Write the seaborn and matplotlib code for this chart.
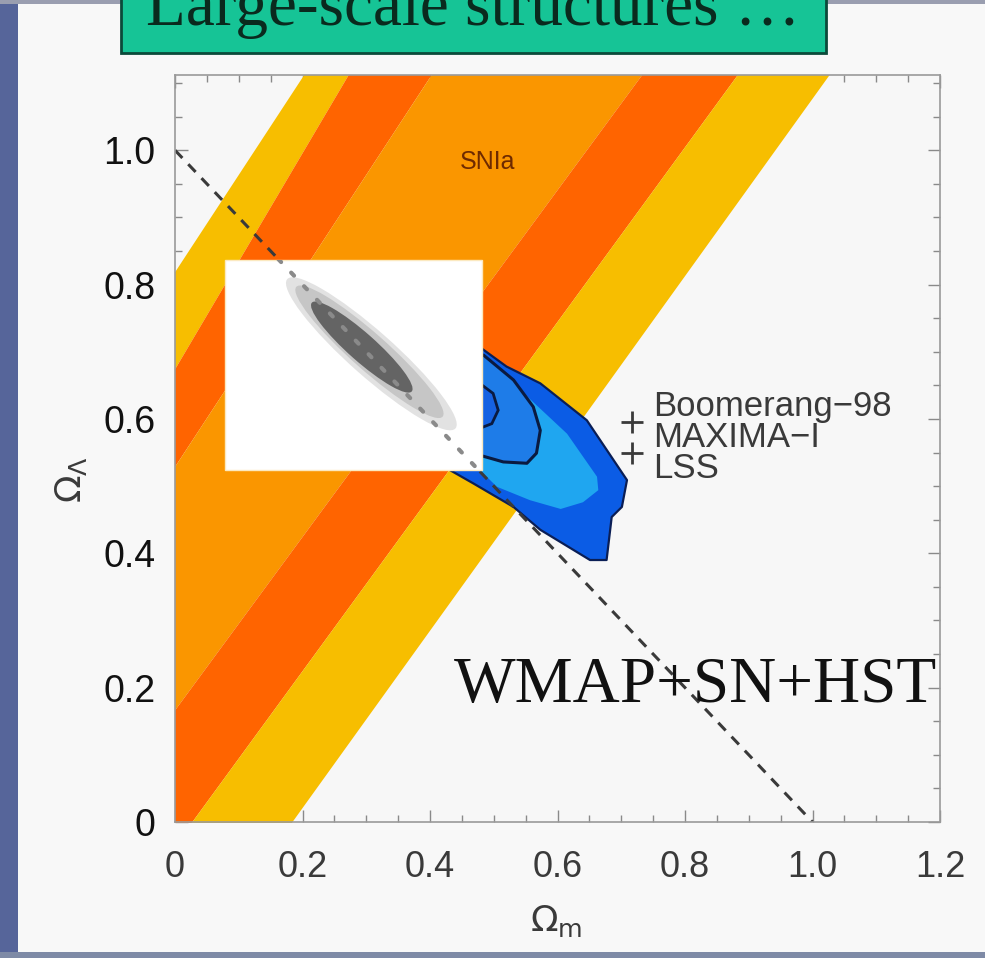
import numpy as np
import matplotlib
matplotlib.use("Agg")
import matplotlib.pyplot as plt
from matplotlib.patches import Rectangle, Polygon, Ellipse
import seaborn as sns

# ---------------- data ----------------
# SN Ia confidence bands: Omega_m of each band boundary at Omega_L = 0 and Omega_L = 1.11
sn_edge_at_bottom = [-0.566, -0.42, -0.366, -0.13, 0.026, 0.183]
sn_edge_at_top = [0.200, 0.27, 0.40, 0.73, 0.88, 1.024]
sn_edge_levels = [0.0, 1.11]
sn_band_colors = ["#F7BE00", "#FF6400", "#FA9600", "#FF6400", "#F7BE00"]

# flat universe line Omega_m + Omega_L = 1
flat_om = [0.0, 1.0]
flat_ol = [1.0, 0.0]

# Boomerang-98 + MAXIMA-I + LSS contours (outer -> inner)
cmb_outer_om = [0.478, 0.520, 0.573, 0.646, 0.709, 0.701, 0.685, 0.677, 0.651, 0.573, 0.531, 0.468, 0.431, 0.40, 0.43]
cmb_outer_ol = [0.707, 0.678, 0.653, 0.598, 0.509, 0.469, 0.454, 0.390, 0.390, 0.435, 0.469, 0.504, 0.524, 0.60, 0.70]
cmb_mid_om = [0.478, 0.536, 0.615, 0.662, 0.664, 0.640, 0.605, 0.557, 0.505, 0.478, 0.45, 0.45]
cmb_mid_ol = [0.683, 0.648, 0.578, 0.514, 0.494, 0.476, 0.466, 0.479, 0.499, 0.524, 0.55, 0.68]
cmb_inner_om = [0.484, 0.531, 0.562, 0.573, 0.567, 0.552, 0.515, 0.478, 0.46, 0.46]
cmb_inner_ol = [0.695, 0.658, 0.618, 0.583, 0.549, 0.534, 0.536, 0.546, 0.55, 0.69]
cmb_core_om = [0.478, 0.499, 0.507, 0.497, 0.478, 0.46, 0.46]
cmb_core_ol = [0.653, 0.638, 0.613, 0.593, 0.586, 0.59, 0.65]

# WMAP+SN+HST inset (pasted panel) and its likelihood ellipses
inset_om = [0.078, 0.481]
inset_ol = [0.524, 0.837]
wmap_center_om = [0.308, 0.305, 0.293]
wmap_center_ol = [0.697, 0.700, 0.707]
wmap_major = [0.345, 0.30, 0.205]
wmap_minor = [0.068, 0.055, 0.042]
wmap_angle = [-40.0, -40.0, -40.0]
wmap_colors = ["#E2E2E2", "#C6C6C6", "#646464"]

x_ticks = [0, 0.2, 0.4, 0.6, 0.8, 1.0, 1.2]
x_ticklabels = ["0", "0.2", "0.4", "0.6", "0.8", "1.0", "1.2"]
y_ticks = [0, 0.2, 0.4, 0.6, 0.8, 1.0]
y_ticklabels = ["0", "0.2", "0.4", "0.6", "0.8", "1.0"]
cmb_labels = ["Boomerang\u221298", "MAXIMA\u2212I", "LSS"]
plus_om = [0.717, 0.717]
plus_ol = [0.596, 0.550]

# ---------------- figure ----------------
sns.set_theme(style="ticks")
plt.rcParams["font.family"] = ["Liberation Sans", "DejaVu Sans"]

W, H = 985, 958
fig = plt.figure(figsize=(W / 100, H / 100), dpi=100)
fig.patch.set_facecolor("#F8F8F8")

# slide decorations
fig.patches.append(Rectangle((0, 0), 18 / W, 1, transform=fig.transFigure,
                             fc="#56659A", ec="none", zorder=0))
fig.patches.append(Rectangle((0, 0), 1, 6 / H, transform=fig.transFigure,
                             fc="#7E8AA6", ec="none", zorder=0))
fig.patches.append(Rectangle((0, 1 - 4 / H), 1, 4 / H, transform=fig.transFigure,
                             fc="#9A9EB0", ec="none", zorder=0))
fig.patches.append(Rectangle((121 / W, 1 - 53 / H), (826 - 121) / W, 60 / H,
                             transform=fig.transFigure, fc="#16C496", ec="#0B4A3A",
                             lw=2, zorder=1))
fig.text(473 / W, 1 - 25 / H, "Large-scale structures \u2026", family=["Liberation Serif", "DejaVu Serif"],
         fontsize=47, ha="center", va="baseline", color="#0A2A1E", zorder=2)

ax = fig.add_axes([175 / W, (H - 822) / H, 765 / W, 747 / H])
ax.set_facecolor("#F7F7F7")
ax.set_xlim(0, 1.2)
ax.set_ylim(0, 1.112)

# SN bands
yy = np.array([-0.05, 1.2])
def edge(i, y):
    b, t = sn_edge_at_bottom[i], sn_edge_at_top[i]
    l0, l1 = sn_edge_levels
    return b + (t - b) * (y - l0) / (l1 - l0)
for i, c in enumerate(sn_band_colors):
    ax.fill_betweenx(yy, edge(i, yy), edge(i + 1, yy), color=c, lw=0, zorder=1)

# CMB contours
ax.add_patch(Polygon(np.column_stack([cmb_outer_om, cmb_outer_ol]), closed=True,
                     fc="#0B5CE5", ec="#0A1E55", lw=1.6, zorder=2, joinstyle="round"))
ax.add_patch(Polygon(np.column_stack([cmb_mid_om, cmb_mid_ol]), closed=True,
                     fc="#1FA6F0", ec="none", zorder=2.1))
ax.add_patch(Polygon(np.column_stack([cmb_inner_om, cmb_inner_ol]), closed=True,
                     fc="#1E7CE8", ec="#0A1A40", lw=2.2, zorder=2.2, joinstyle="round"))
ax.add_patch(Polygon(np.column_stack([cmb_core_om, cmb_core_ol]), closed=True,
                     fc="#1662E2", ec="#0A1A40", lw=2.0, zorder=2.3))

# flat-universe dashed line
sns.lineplot(x=flat_om, y=flat_ol, ax=ax, color="#3A3A3A", lw=2.2,
             linestyle=(0, (3.5, 2.8)), zorder=3, legend=False)

# pasted WMAP inset
inset = Rectangle((inset_om[0], inset_ol[0]), inset_om[1] - inset_om[0],
                  inset_ol[1] - inset_ol[0], fc="white", ec="#FBE9C0", lw=1.0, zorder=4)
ax.add_patch(inset)
for cx, cy, a, b, ang, col in zip(wmap_center_om, wmap_center_ol, wmap_major,
                                  wmap_minor, wmap_angle, wmap_colors):
    ax.add_patch(Ellipse((cx, cy), a, b, angle=ang, fc=col, ec="none", zorder=5))
dots, = ax.plot(flat_om, flat_ol, color="#8A8A8A", lw=3, linestyle=(0, (1, 3.5)),
                dash_capstyle="round", zorder=6)
dots.set_clip_path(inset)

# annotations
ax.text(0.491, 0.982, "SNIa", fontsize=18, color="#6E2A00", ha="center", va="center", zorder=7)
ax.text(0.750, 0.512, "\n".join(cmb_labels), fontsize=25, color="#3A3A3A",
        ha="left", va="baseline", linespacing=0.92, zorder=7)
sns.scatterplot(x=plus_om, y=plus_ol, ax=ax, marker="+", s=260, color="#3A3A3A",
                linewidth=2.0, zorder=7, legend=False)
ax.text(0.438, 0.179, "WMAP+SN+HST", fontsize=47, family=["Liberation Serif", "DejaVu Serif"],
        color="#111111", ha="left", va="baseline", zorder=7)

# axes styling
for s in ax.spines.values():
    s.set_color("#9A9A9A")
    s.set_linewidth(1.2)
    s.set_zorder(8)
ax.set_xticks(x_ticks)
ax.set_xticklabels(x_ticklabels, fontsize=26, color="#3A3A3A")
ax.set_yticks(y_ticks)
ax.set_yticklabels(y_ticklabels, fontsize=27, color="#111111")
ax.xaxis.set_minor_locator(matplotlib.ticker.MultipleLocator(0.05))
ax.yaxis.set_minor_locator(matplotlib.ticker.MultipleLocator(0.05))
ax.tick_params(which="both", direction="in", top=True, right=True, color="#8A8A8A", width=1.0)
ax.tick_params(which="major", length=9)
ax.tick_params(which="minor", length=5)
ax.tick_params(axis="x", which="major", pad=20)
ax.tick_params(axis="y", which="major", pad=14)

ax.set_xlabel(r"$\Omega_{\rm m}$", fontsize=26, color="#3A3A3A")
ax.xaxis.set_label_coords(0.498, -0.108)
ax.set_ylabel(r"$\Omega_\Lambda$", fontsize=26, color="#3A3A3A")
ax.yaxis.set_label_coords(-0.112, 0.458)

fig.savefig("out.png", dpi=100, facecolor=fig.get_facecolor())
